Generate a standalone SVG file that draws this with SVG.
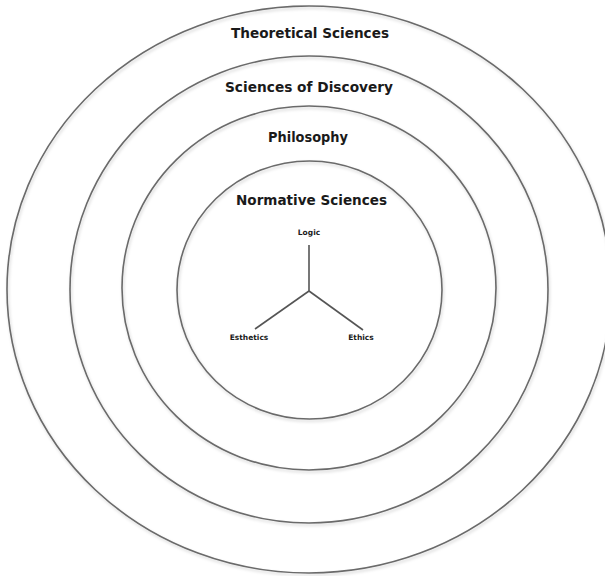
<svg xmlns="http://www.w3.org/2000/svg" width="605" height="576" viewBox="0 0 605 576">
<style>
.ring{fill:none;stroke:#6a6a6a;stroke-width:1.6;filter:url(#sh)}
.title{font-family:"DejaVu Sans",Verdana,sans-serif;font-weight:bold;font-size:14px;fill:#1a1a1a;text-anchor:middle}
.small{font-family:"DejaVu Sans",Verdana,sans-serif;font-weight:bold;font-size:7.5px;fill:#1a1a1a;text-anchor:middle}
.conn{stroke:#555;stroke-width:1.6;fill:none}
</style>
<defs>
<filter id="sh" x="-5%" y="-5%" width="110%" height="110%">
<feDropShadow dx="1" dy="2" stdDeviation="1.5" flood-color="#000" flood-opacity="0.18"/>
</filter>
</defs>
<rect width="605" height="576" fill="#fff"/>
<g id="theoretical">
<ellipse class="ring" cx="309" cy="289.5" rx="302" ry="283.5"/>
<text class="title" x="310" y="38" textLength="158" lengthAdjust="spacingAndGlyphs">Theoretical Sciences</text>
</g>
<g id="discovery">
<ellipse class="ring" cx="309" cy="289.5" rx="239" ry="233.5"/>
<text class="title" x="309" y="92" textLength="168" lengthAdjust="spacingAndGlyphs">Sciences of Discovery</text>
</g>
<g id="philosophy">
<ellipse class="ring" cx="309" cy="288" rx="187" ry="182"/>
<text class="title" x="308" y="142" textLength="80" lengthAdjust="spacingAndGlyphs">Philosophy</text>
</g>
<g id="normative">
<ellipse class="ring" cx="309.5" cy="290" rx="132.5" ry="129"/>
<text class="title" x="311.5" y="205" textLength="151" lengthAdjust="spacingAndGlyphs">Normative Sciences</text>
</g>
<g id="logic"><text class="small" x="309" y="235">Logic</text></g>
<g id="esthetics"><text class="small" x="249" y="340">Esthetics</text></g>
<g id="ethics"><text class="small" x="361" y="340">Ethics</text></g>
<g id="connectors">
<line class="conn" x1="309" y1="245" x2="309" y2="291"/>
<line class="conn" x1="309" y1="291" x2="255" y2="329"/>
<line class="conn" x1="309" y1="291" x2="363" y2="330"/>
</g>
</svg>
